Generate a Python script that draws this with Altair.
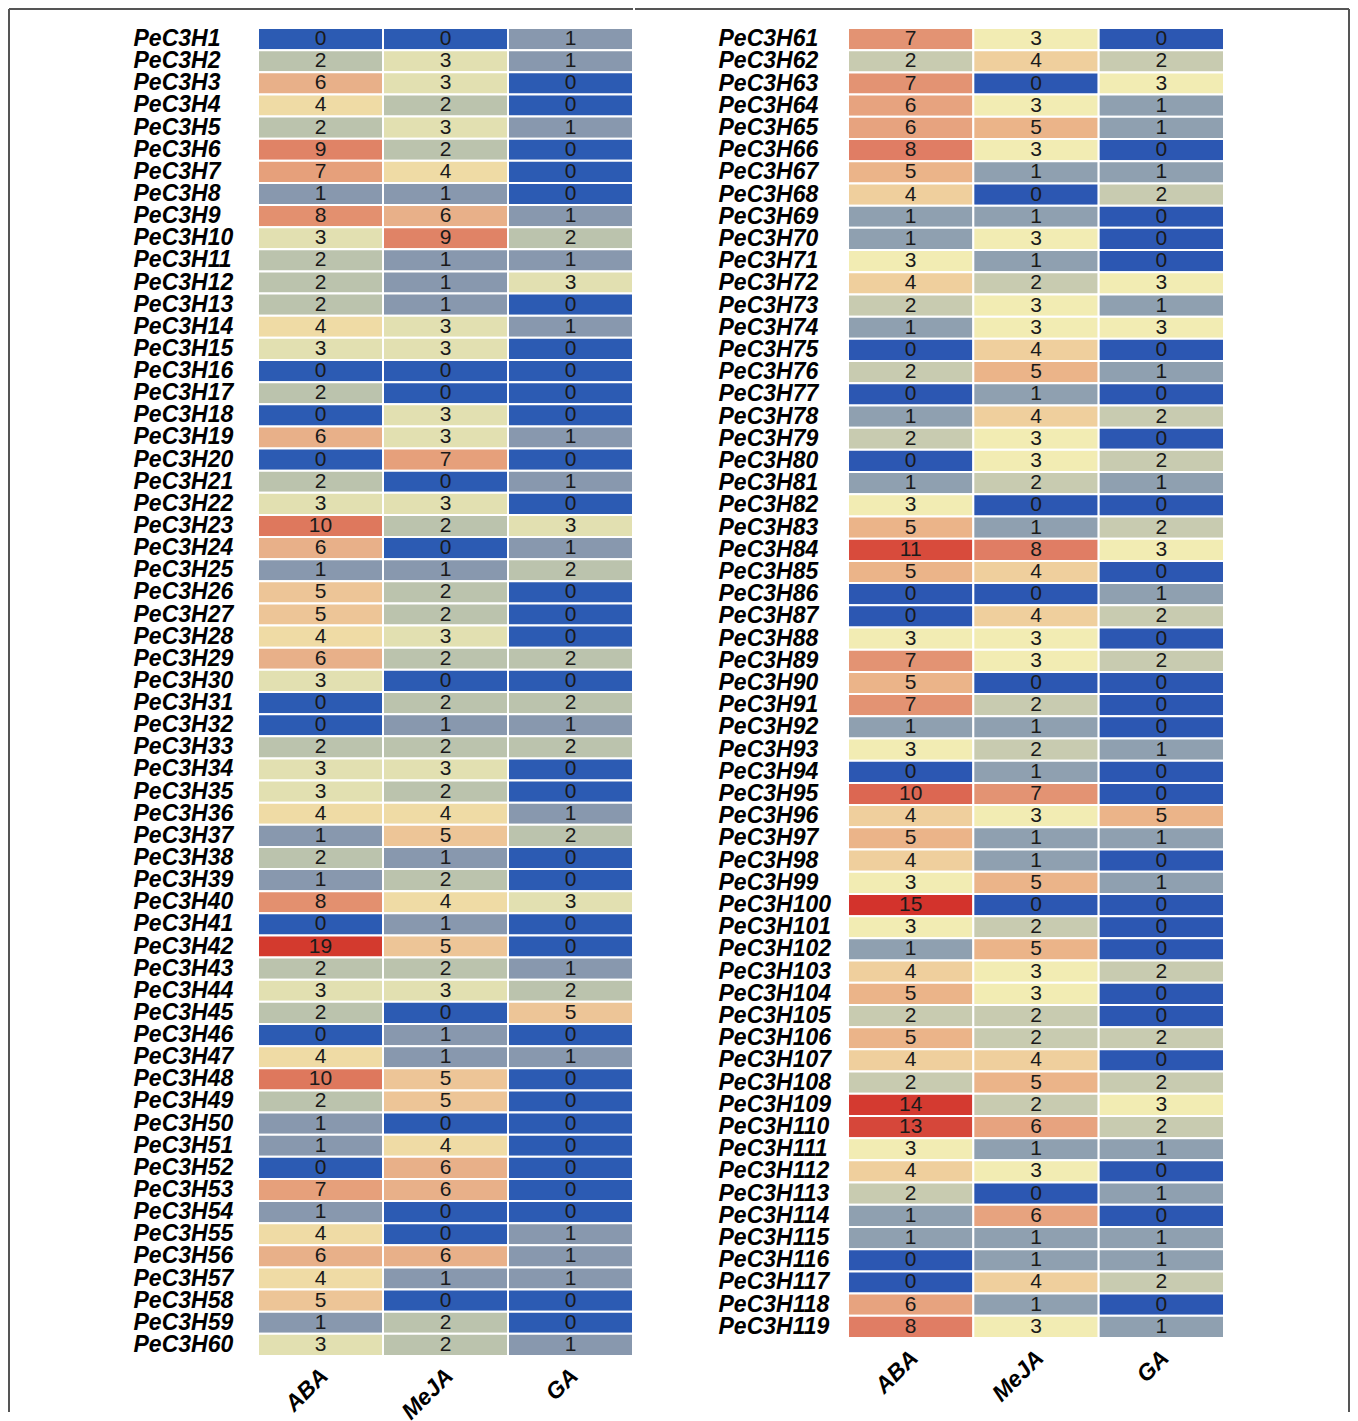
import altair as alt
import pandas as pd

treatments = ["ABA", "MeJA", "GA"]

genes_left = ["PeC3H%d" % i for i in range(1, 61)]
aba_left = [0, 2, 6, 4, 2, 9, 7, 1, 8, 3, 2, 2, 2, 4, 3, 0, 2, 0, 6, 0,
            2, 3, 10, 6, 1, 5, 5, 4, 6, 3, 0, 0, 2, 3, 3, 4, 1, 2, 1, 8,
            0, 19, 2, 3, 2, 0, 4, 10, 2, 1, 1, 0, 7, 1, 4, 6, 4, 5, 1, 3]
meja_left = [0, 3, 3, 2, 3, 2, 4, 1, 6, 9, 1, 1, 1, 3, 3, 0, 0, 3, 3, 7,
             0, 3, 2, 0, 1, 2, 2, 3, 2, 0, 2, 1, 2, 3, 2, 4, 5, 1, 2, 4,
             1, 5, 2, 3, 0, 1, 1, 5, 5, 0, 4, 6, 6, 0, 0, 6, 1, 0, 2, 2]
ga_left = [1, 1, 0, 0, 1, 0, 0, 0, 1, 2, 1, 3, 0, 1, 0, 0, 0, 0, 1, 0,
           1, 0, 3, 1, 2, 0, 0, 0, 2, 0, 2, 1, 2, 0, 0, 1, 2, 0, 0, 3,
           0, 0, 1, 2, 5, 0, 1, 0, 0, 0, 0, 0, 0, 0, 1, 1, 1, 0, 0, 1]

genes_right = ["PeC3H%d" % i for i in range(61, 120)]
aba_right = [7, 2, 7, 6, 6, 8, 5, 4, 1, 1, 3, 4, 2, 1, 0, 2, 0, 1, 2, 0,
             1, 3, 5, 11, 5, 0, 0, 3, 7, 5, 7, 1, 3, 0, 10, 4, 5, 4, 3, 15,
             3, 1, 4, 5, 2, 5, 4, 2, 14, 13, 3, 4, 2, 1, 1, 0, 0, 6, 8]
meja_right = [3, 4, 0, 3, 5, 3, 1, 0, 1, 3, 1, 2, 3, 3, 4, 5, 1, 4, 3, 3,
              2, 0, 1, 8, 4, 0, 4, 3, 3, 0, 2, 1, 2, 1, 7, 3, 1, 1, 5, 0,
              2, 5, 3, 3, 2, 2, 4, 5, 2, 6, 1, 3, 0, 6, 1, 1, 4, 1, 3]
ga_right = [0, 2, 3, 1, 1, 0, 1, 2, 0, 0, 0, 3, 1, 3, 0, 1, 0, 2, 0, 2,
            1, 0, 2, 3, 0, 1, 2, 0, 2, 0, 0, 0, 1, 0, 0, 5, 1, 0, 1, 0,
            0, 0, 2, 0, 0, 2, 0, 2, 3, 2, 1, 0, 1, 0, 1, 1, 2, 0, 1]

dom_left = [0, 1, 2, 3, 4, 5, 6, 7, 8, 9, 10, 19]
col_left = ["#2c5bb3", "#8898ae", "#bbc3ad", "#e2e0b1", "#efdba5", "#edc597",
            "#e8b089", "#e6a07b", "#e3906f", "#e08366", "#de785d", "#d33a2e"]
dom_right = [0, 1, 2, 3, 4, 5, 6, 7, 8, 10, 11, 13, 14, 15]
col_right = ["#2c57b2", "#8fa0b0", "#c8cbb0", "#f2ecb3", "#efcf9d", "#ebb489",
             "#e7a37f", "#e39373", "#e07d64", "#dc6752", "#d84b3c", "#d6473a",
             "#d43a30", "#d3332c"]

FONT = "Liberation Sans"
FRAME = "#555555"


def long_df(genes, aba, meja, ga):
    rows = []
    for g, a, m, gg in zip(genes, aba, meja, ga):
        rows.append({"gene": g, "treatment": "ABA", "value": a})
        rows.append({"gene": g, "treatment": "MeJA", "value": m})
        rows.append({"gene": g, "treatment": "GA", "value": gg})
    return pd.DataFrame(rows)


def panel(genes, aba, meja, ga, dom, cols, label_pad, w, h, frame):
    df = long_df(genes, aba, meja, ga)
    base = alt.Chart(df).encode(
        x=alt.X("treatment:N", sort=treatments, title=None,
                scale=alt.Scale(paddingInner=0, paddingOuter=0),
                axis=alt.Axis(orient="bottom", labelAngle=-45, labelAlign="right",
                              labelBaseline="middle", labelFont=FONT, labelFontSize=23,
                              labelFontStyle="italic", labelFontWeight="bold",
                              labelColor="black", ticks=False, tickSize=0, domain=False,
                              labelPadding=16, labelOffset=4)),
        y=alt.Y("gene:N", sort=genes, title=None,
                scale=alt.Scale(paddingInner=0, paddingOuter=0),
                axis=alt.Axis(labelAlign="left", labelBaseline="middle", labelFont=FONT,
                              labelFontSize=23, labelFontStyle="italic",
                              labelFontWeight="bold", labelColor="black",
                              ticks=False, tickSize=0, domain=False,
                              labelPadding=label_pad, labelLimit=300)),
    )
    rect = base.mark_rect(stroke="white", strokeWidth=2).encode(
        color=alt.Color("value:Q", legend=None,
                        scale=alt.Scale(type="linear", domain=dom, range=cols,
                                        interpolate="rgb"))
    )
    text = base.mark_text(font=FONT, fontSize=21, baseline="middle",
                          color="#1a1a1a").encode(text="value:Q")
    one = pd.DataFrame({"k": [0]})
    layers = [rect, text]
    for f in frame:
        r = alt.Chart(one).mark_rule(color=FRAME, strokeWidth=2)
        if f[0] == "h":
            r = r.encode(x=alt.value(f[1]), x2=alt.value(f[2]), y=alt.value(f[3]))
        else:
            r = r.encode(x=alt.value(f[1]), y=alt.value(f[2]), y2=alt.value(f[3]))
        layers.append(r)
    return alt.layer(*layers).properties(width=w, height=h)


left = panel(genes_left, aba_left, meja_left, ga_left, dom_left, col_left, 125,
             375, 1328,
             [("h", -249, 375, -19), ("v", -249, -19, 1384)])
right = panel(genes_right, aba_right, meja_right, ga_right, dom_right, col_right, 130,
              376, 1310,
              [("h", -213, 501, -19), ("v", 501, -19, 1384)])

chart = alt.hconcat(left, right, spacing=0, padding=0).resolve_scale(
    color="independent"
).configure_view(stroke=None)

chart.save("out.html", embed_options={"renderer": "svg", "actions": False})
